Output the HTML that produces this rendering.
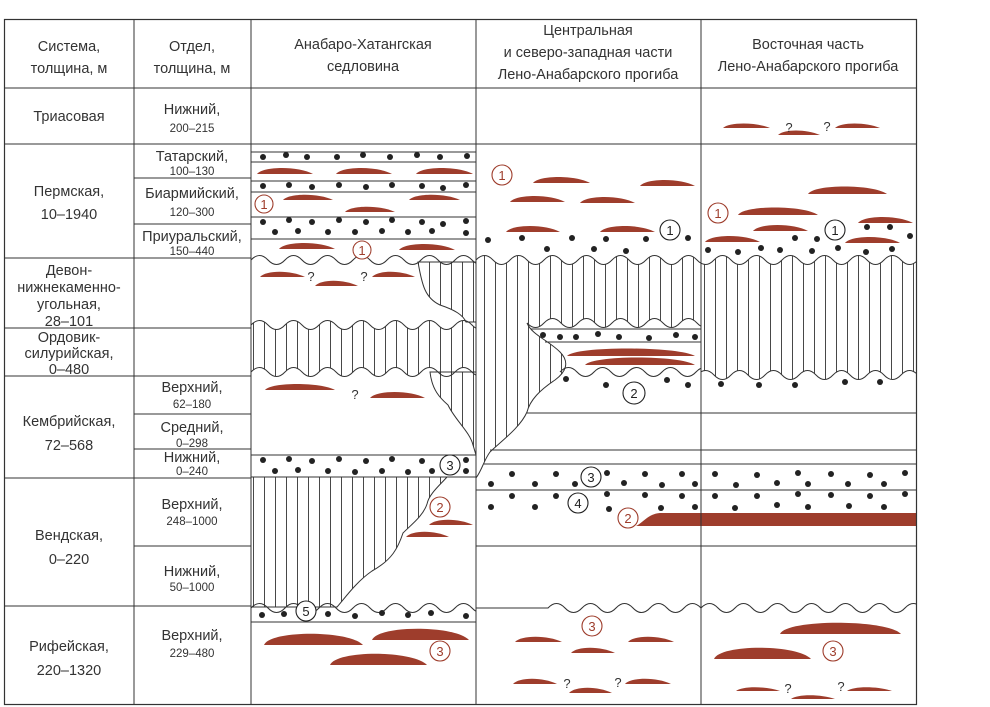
<!DOCTYPE html>
<html><head><meta charset="utf-8"><style>
html,body{margin:0;padding:0;background:#fff;}
svg{display:block;}
text{font-family:"Liberation Sans","DejaVu Sans",sans-serif;fill:#333;}
.t{font-size:14.5px;text-anchor:middle;}
.s{font-size:11.5px;text-anchor:middle;}
.q{font-size:13px;text-anchor:middle;}
.L{fill:#9e3d2c;stroke:none;}
.g line{stroke:#333;stroke-width:1;}
.d circle{fill:#222;}
.w{fill:none;stroke:#333;stroke-width:1.1;}
.cb{fill:#fff;stroke:#222;stroke-width:1.1;}
.cr{fill:#fff;stroke:#9e3d2c;stroke-width:1.1;}
.nb{font-size:13px;text-anchor:middle;fill:#222;}
.nr{font-size:13px;text-anchor:middle;fill:#9e3d2c;}
</style></head><body>
<svg width="990" height="707" viewBox="0 0 990 707" xmlns="http://www.w3.org/2000/svg">
<defs>
<pattern id="h" patternUnits="userSpaceOnUse" width="11" height="10"><line x1="0.5" y1="0" x2="0.5" y2="10" stroke="#333" stroke-width="0.9"/></pattern>
<clipPath id="c3"><rect x="251" y="88" width="225" height="617"/></clipPath>
<clipPath id="c4"><rect x="476" y="88" width="225" height="617"/></clipPath>
<clipPath id="c5"><rect x="701" y="88" width="215" height="617"/></clipPath>
</defs>

<g fill="url(#h)" stroke="#333" stroke-width="1">
<g clip-path="url(#c3)">
<path d="M418,262 C422,285 425,298 440,305 C455,310 463,315 466,322 L476,322 L476,262 Z"/>
<path d="M251,325 q8.5,-9 17,0 t17,0 t17,0 t17,0 t17,0 t17,0 t17,0 t17,0 t17,0 t17,0 t17,0 t17,0 t17,0 t17,0 L489,372 q-8.5,9 -17,0 t-17,0 t-17,0 t-17,0 t-17,0 t-17,0 t-17,0 t-17,0 t-17,0 t-17,0 t-17,0 t-17,0 t-17,0 t-17,0 Z"/>
<path d="M430,372 C432,390 440,398 448,405 C455,420 470,432 473,445 L476,455 L476,372 Z"/>
<path d="M251,477 L447,477 C440,485 429,494 427,504 C423,516 412,524 403,533 C398,548 392,560 372,571 C356,582 345,598 337,607 L251,607 Z"/>
</g>
<g clip-path="url(#c4)">
<path d="M476,260 q8.5,-9 17,0 t17,0 t17,0 t17,0 t17,0 t17,0 t17,0 t17,0 t17,0 t17,0 t17,0 t17,0 t17,0 t17,0 L714,323 q-8.5,9 -17,0 t-17,0 t-17,0 t-17,0 t-17,0 t-17,0 t-17,0 t-17,0 t-17,0 t-17,0 t-17,0 C532,335 548,340 560,352 C570,362 566,372 555,380 C540,390 530,400 527,412 C520,428 500,442 490,452 C484,460 482,470 476,478 Z"/>
</g>
<g clip-path="url(#c5)">
<path d="M680,260 q8.5,-9 17,0 t17,0 t17,0 t17,0 t17,0 t17,0 t17,0 t17,0 t17,0 t17,0 t17,0 t17,0 t17,0 t17,0 t17,0 L935,375 q-8.5,9 -17,0 t-17,0 t-17,0 t-17,0 t-17,0 t-17,0 t-17,0 t-17,0 t-17,0 t-17,0 t-17,0 t-17,0 t-17,0 t-17,0 t-17,0 Z"/>
</g>
</g>

<g clip-path="url(#c3)"><path class="w" d="M251,260 q8.5,-9 17,0 t17,0 t17,0 t17,0 t17,0 t17,0 t17,0 t17,0 t17,0 t17,0 t17,0 t17,0 t17,0 t17,0"/>
<path class="w" d="M251,608 q8.5,-9 17,0 t17,0 t17,0 t17,0 t17,0 t17,0 t17,0 t17,0 t17,0 t17,0 t17,0 t17,0 t17,0 t17,0"/></g>
<g clip-path="url(#c4)"><path class="w" d="M560,372 q8.5,-9 17,0 t17,0 t17,0 t17,0 t17,0 t17,0 t17,0 t17,0 t17,0"/>
<path class="w" d="M476,608 L548,608 q8.5,-9 17,0 t17,0 t17,0 t17,0 t17,0 t17,0 t17,0 t17,0 t17,0"/></g>
<g clip-path="url(#c5)"><path class="w" d="M701,608 q8.5,-9 17,0 t17,0 t17,0 t17,0 t17,0 t17,0 t17,0 t17,0 t17,0 t17,0 t17,0 t17,0 t17,0"/></g>

<g class="g">
<line x1="251" y1="152" x2="476" y2="152"/><line x1="251" y1="162" x2="476" y2="162"/>
<line x1="251" y1="181" x2="476" y2="181"/><line x1="251" y1="192" x2="476" y2="192"/>
<line x1="251" y1="217" x2="476" y2="217"/><line x1="251" y1="239" x2="476" y2="239"/>
<line x1="251" y1="455" x2="476" y2="455"/><line x1="251" y1="477" x2="476" y2="477"/>
<line x1="251" y1="622" x2="476" y2="622"/>
<line x1="531" y1="329" x2="701" y2="329"/><line x1="545" y1="342" x2="701" y2="342"/>
<line x1="527" y1="413" x2="916" y2="413"/><line x1="490" y1="450" x2="916" y2="450"/>
<line x1="484" y1="464" x2="916" y2="464"/><line x1="476" y1="490" x2="916" y2="490"/>
<line x1="476" y1="546" x2="916" y2="546"/>
</g>

<g class="d">
<circle cx="263" cy="157" r="3"/><circle cx="286" cy="155" r="3"/><circle cx="307" cy="157" r="3"/><circle cx="337" cy="157" r="3"/><circle cx="363" cy="155" r="3"/><circle cx="390" cy="157" r="3"/><circle cx="417" cy="155" r="3"/><circle cx="440" cy="157" r="3"/><circle cx="467" cy="156" r="3"/>
<circle cx="263" cy="186" r="3"/><circle cx="289" cy="185" r="3"/><circle cx="312" cy="187" r="3"/><circle cx="339" cy="185" r="3"/><circle cx="366" cy="187" r="3"/><circle cx="392" cy="185" r="3"/><circle cx="422" cy="186" r="3"/><circle cx="443" cy="188" r="3"/><circle cx="466" cy="185" r="3"/>
<circle cx="263" cy="222" r="3"/><circle cx="289" cy="220" r="3"/><circle cx="312" cy="222" r="3"/><circle cx="339" cy="220" r="3"/><circle cx="366" cy="222" r="3"/><circle cx="392" cy="220" r="3"/><circle cx="422" cy="222" r="3"/><circle cx="443" cy="224" r="3"/><circle cx="466" cy="221" r="3"/>
<circle cx="275" cy="232" r="3"/><circle cx="298" cy="231" r="3"/><circle cx="328" cy="232" r="3"/><circle cx="355" cy="232" r="3"/><circle cx="382" cy="231" r="3"/><circle cx="408" cy="232" r="3"/><circle cx="432" cy="231" r="3"/><circle cx="466" cy="233" r="3"/>
<circle cx="263" cy="460" r="3"/><circle cx="289" cy="459" r="3"/><circle cx="312" cy="461" r="3"/><circle cx="339" cy="459" r="3"/><circle cx="366" cy="461" r="3"/><circle cx="392" cy="459" r="3"/><circle cx="422" cy="461" r="3"/><circle cx="466" cy="460" r="3"/>
<circle cx="275" cy="471" r="3"/><circle cx="298" cy="470" r="3"/><circle cx="328" cy="471" r="3"/><circle cx="355" cy="472" r="3"/><circle cx="382" cy="471" r="3"/><circle cx="408" cy="472" r="3"/><circle cx="432" cy="471" r="3"/><circle cx="466" cy="471" r="3"/>
<circle cx="262" cy="615" r="3"/><circle cx="284" cy="614" r="3"/><circle cx="328" cy="614" r="3"/><circle cx="355" cy="616" r="3"/><circle cx="382" cy="613" r="3"/><circle cx="408" cy="615" r="3"/><circle cx="431" cy="613" r="3"/><circle cx="466" cy="616" r="3"/>
<circle cx="488" cy="240" r="3"/><circle cx="522" cy="238" r="3"/><circle cx="547" cy="249" r="3"/><circle cx="572" cy="238" r="3"/><circle cx="594" cy="249" r="3"/><circle cx="606" cy="239" r="3"/><circle cx="626" cy="251" r="3"/><circle cx="646" cy="239" r="3"/><circle cx="688" cy="238" r="3"/>
<circle cx="867" cy="227" r="3"/><circle cx="890" cy="227" r="3"/><circle cx="795" cy="238" r="3"/><circle cx="817" cy="239" r="3"/><circle cx="910" cy="236" r="3"/>
<circle cx="708" cy="250" r="3"/><circle cx="738" cy="252" r="3"/><circle cx="761" cy="248" r="3"/><circle cx="780" cy="250" r="3"/><circle cx="812" cy="251" r="3"/><circle cx="838" cy="248" r="3"/><circle cx="866" cy="252" r="3"/><circle cx="892" cy="249" r="3"/>
<circle cx="543" cy="335" r="3"/><circle cx="560" cy="337" r="3"/><circle cx="576" cy="337" r="3"/><circle cx="598" cy="334" r="3"/><circle cx="619" cy="337" r="3"/><circle cx="649" cy="338" r="3"/><circle cx="676" cy="335" r="3"/><circle cx="695" cy="337" r="3"/>
<circle cx="566" cy="379" r="3"/><circle cx="606" cy="385" r="3"/><circle cx="667" cy="380" r="3"/><circle cx="688" cy="385" r="3"/>
<circle cx="721" cy="384" r="3"/><circle cx="759" cy="385" r="3"/><circle cx="795" cy="385" r="3"/><circle cx="845" cy="382" r="3"/><circle cx="880" cy="382" r="3"/>
<circle cx="512" cy="474" r="3"/><circle cx="556" cy="474" r="3"/><circle cx="607" cy="473" r="3"/><circle cx="645" cy="474" r="3"/><circle cx="682" cy="474" r="3"/><circle cx="715" cy="474" r="3"/><circle cx="757" cy="475" r="3"/><circle cx="798" cy="473" r="3"/><circle cx="831" cy="474" r="3"/><circle cx="870" cy="475" r="3"/><circle cx="905" cy="473" r="3"/>
<circle cx="491" cy="484" r="3"/><circle cx="535" cy="484" r="3"/><circle cx="575" cy="484" r="3"/><circle cx="624" cy="483" r="3"/><circle cx="662" cy="485" r="3"/><circle cx="695" cy="484" r="3"/><circle cx="736" cy="485" r="3"/><circle cx="777" cy="483" r="3"/><circle cx="808" cy="484" r="3"/><circle cx="848" cy="484" r="3"/><circle cx="884" cy="484" r="3"/>
<circle cx="512" cy="496" r="3"/><circle cx="556" cy="496" r="3"/><circle cx="607" cy="494" r="3"/><circle cx="645" cy="495" r="3"/><circle cx="682" cy="496" r="3"/><circle cx="715" cy="496" r="3"/><circle cx="757" cy="496" r="3"/><circle cx="798" cy="494" r="3"/><circle cx="831" cy="495" r="3"/><circle cx="870" cy="496" r="3"/><circle cx="905" cy="494" r="3"/>
<circle cx="491" cy="507" r="3"/><circle cx="535" cy="507" r="3"/><circle cx="609" cy="509" r="3"/><circle cx="661" cy="508" r="3"/><circle cx="695" cy="507" r="3"/><circle cx="735" cy="508" r="3"/><circle cx="777" cy="505" r="3"/><circle cx="808" cy="507" r="3"/><circle cx="849" cy="506" r="3"/><circle cx="884" cy="507" r="3"/>
</g>

<g class="L">
<path d="M257,174 c6,-8 42,-8 56,0 z"/><path d="M336,174 c6,-8 42,-8 56,0 z"/><path d="M416,174 c6,-8 43,-8 57,0 z"/>
<path d="M283,200 c6,-7 36,-7 50,0 z"/><path d="M345,212 c6,-7 36,-7 50,0 z"/><path d="M409,200 c6,-7 37,-7 51,0 z"/>
<path d="M279,249 c6,-8 42,-8 56,0 z"/><path d="M399,250 c6,-8 42,-8 56,0 z"/>
<path d="M260,277 c6,-7 31,-7 45,0 z"/><path d="M315,286 c6,-7 29,-7 43,0 z"/><path d="M372,277 c6,-7 29,-7 43,0 z"/>
<path d="M265,390 c6,-8 56,-8 70,0 z"/><path d="M370,398 c6,-8 41,-8 55,0 z"/>
<path d="M429,525 c6,-7 30,-7 44,0 z"/><path d="M406,537 c6,-7 29,-7 43,0 z"/>
<path d="M264,645 c6,-15 85,-15 99,0 z"/><path d="M372,640 c6,-15 83,-15 97,0 z"/><path d="M330,665 c6,-15 83,-15 97,0 z"/>
<path d="M533,183 c6,-8 43,-8 57,0 z"/><path d="M640,186 c6,-8 41,-8 55,0 z"/><path d="M510,202 c6,-8 41,-8 55,0 z"/><path d="M580,203 c6,-8 41,-8 55,0 z"/><path d="M506,232 c6,-8 40,-8 54,0 z"/><path d="M600,232 c6,-8 41,-8 55,0 z"/>
<path d="M567,356 c8,-10 110,-10 128,0 z"/><path d="M585,365 c8,-10 95,-10 110,0 z"/>
<path d="M515,642 c6,-7 33,-7 47,0 z"/><path d="M628,642 c6,-7 32,-7 46,0 z"/><path d="M571,653 c6,-7 30,-7 44,0 z"/>
<path d="M513,684 c6,-7 30,-7 44,0 z"/><path d="M569,693 c6,-7 29,-7 43,0 z"/><path d="M625,684 c6,-7 32,-7 46,0 z"/>
<path d="M723,128 c6,-6 33,-6 47,0 z"/><path d="M778,135 c6,-6 28,-6 42,0 z"/><path d="M835,128 c6,-6 31,-6 45,0 z"/>
<path d="M808,194 c6,-10 65,-10 79,0 z"/><path d="M738,215 c6,-10 66,-10 80,0 z"/><path d="M753,231 c6,-8 41,-8 55,0 z"/><path d="M705,242 c6,-8 41,-8 55,0 z"/><path d="M858,223 c6,-8 41,-8 55,0 z"/><path d="M845,243 c6,-8 41,-8 55,0 z"/>
<path d="M780,634 c6,-15 107,-15 121,0 z"/><path d="M714,659 c6,-15 83,-15 97,0 z"/>
<path d="M736,691 c6,-5 30,-5 44,0 z"/><path d="M791,699 c6,-5 30,-5 44,0 z"/><path d="M847,691 c6,-5 31,-5 45,0 z"/>
<path d="M636,526 C644,522 648,514 660,513 L916,513 L916,526 Z"/>
</g>

<g>
<text class="q" x="311" y="281">?</text><text class="q" x="364" y="281">?</text>
<text class="q" x="355" y="399">?</text>
<text class="q" x="567" y="688">?</text><text class="q" x="618" y="687">?</text>
<text class="q" x="789" y="132">?</text><text class="q" x="827" y="131">?</text>
<text class="q" x="788" y="693">?</text><text class="q" x="841" y="691">?</text>
</g>

<g>
<circle class="cr" cx="264" cy="204" r="9"/><text class="nr" x="264" y="209">1</text>
<circle class="cr" cx="362" cy="250" r="9"/><text class="nr" x="362" y="255">1</text>
<circle class="cr" cx="502" cy="175" r="10"/><text class="nr" x="502" y="180">1</text>
<circle class="cb" cx="670" cy="230" r="10"/><text class="nb" x="670" y="235">1</text>
<circle class="cr" cx="718" cy="213" r="10"/><text class="nr" x="718" y="218">1</text>
<circle class="cb" cx="835" cy="230" r="10"/><text class="nb" x="835" y="235">1</text>
<circle class="cb" cx="634" cy="393" r="11"/><text class="nb" x="634" y="398">2</text>
<circle class="cb" cx="450" cy="465" r="10"/><text class="nb" x="450" y="470">3</text>
<circle class="cb" cx="591" cy="477" r="10"/><text class="nb" x="591" y="482">3</text>
<circle class="cb" cx="578" cy="503" r="10"/><text class="nb" x="578" y="508">4</text>
<circle class="cr" cx="628" cy="518" r="10"/><text class="nr" x="628" y="523">2</text>
<circle class="cr" cx="440" cy="507" r="10"/><text class="nr" x="440" y="512">2</text>
<circle class="cb" cx="306" cy="611" r="10"/><text class="nb" x="306" y="616">5</text>
<circle class="cr" cx="440" cy="651" r="10"/><text class="nr" x="440" y="656">3</text>
<circle class="cr" cx="592" cy="626" r="10"/><text class="nr" x="592" y="631">3</text>
<circle class="cr" cx="833" cy="651" r="10"/><text class="nr" x="833" y="656">3</text>
</g>

<g class="g">
<rect x="4.5" y="19.5" width="912" height="685" fill="none" stroke="#333" stroke-width="1.2"/>
<line x1="134" y1="19" x2="134" y2="705"/>
<line x1="251" y1="19" x2="251" y2="705"/>
<line x1="476" y1="19" x2="476" y2="705"/>
<line x1="701" y1="19" x2="701" y2="705"/>
<line x1="4" y1="88" x2="916" y2="88"/>
<line x1="4" y1="144" x2="916" y2="144"/>
<line x1="4" y1="258" x2="251" y2="258"/>
<line x1="4" y1="328" x2="251" y2="328"/>
<line x1="4" y1="376" x2="251" y2="376"/>
<line x1="4" y1="478" x2="251" y2="478"/>
<line x1="4" y1="606" x2="251" y2="606"/>
<line x1="134" y1="178" x2="251" y2="178"/>
<line x1="134" y1="224" x2="251" y2="224"/>
<line x1="134" y1="414" x2="251" y2="414"/>
<line x1="134" y1="449" x2="251" y2="449"/>
<line x1="134" y1="546" x2="251" y2="546"/>
</g>

<text class="t" x="69" y="51">Система,</text><text class="t" x="69" y="73">толщина, м</text>
<text class="t" x="192" y="51">Отдел,</text><text class="t" x="192" y="73">толщина, м</text>
<text class="t" x="363" y="49">Анабаро-Хатангская</text><text class="t" x="363" y="71">седловина</text>
<text class="t" x="588" y="35">Центральная</text><text class="t" x="588" y="57">и северо-западная части</text><text class="t" x="588" y="79">Лено-Анабарского прогиба</text>
<text class="t" x="808" y="49">Восточная часть</text><text class="t" x="808" y="71">Лено-Анабарского прогиба</text>

<text class="t" x="69" y="121">Триасовая</text>
<text class="t" x="69" y="196">Пермская,</text><text class="t" x="69" y="219">10–1940</text>
<text class="t" x="69" y="275">Девон-</text><text class="t" x="69" y="292">нижнекаменно-</text><text class="t" x="69" y="309">угольная,</text><text class="t" x="69" y="326">28–101</text>
<text class="t" x="69" y="342">Ордовик-</text><text class="t" x="69" y="358">силурийская,</text><text class="t" x="69" y="374">0–480</text>
<text class="t" x="69" y="426">Кембрийская,</text><text class="t" x="69" y="450">72–568</text>
<text class="t" x="69" y="540">Вендская,</text><text class="t" x="69" y="564">0–220</text>
<text class="t" x="69" y="651">Рифейская,</text><text class="t" x="69" y="675">220–1320</text>

<text class="t" x="192" y="114">Нижний,</text><text class="s" x="192" y="132">200–215</text>
<text class="t" x="192" y="161">Татарский,</text><text class="s" x="192" y="175">100–130</text>
<text class="t" x="192" y="198">Биармийский,</text><text class="s" x="192" y="216">120–300</text>
<text class="t" x="192" y="241">Приуральский,</text><text class="s" x="192" y="255">150–440</text>
<text class="t" x="192" y="392">Верхний,</text><text class="s" x="192" y="408">62–180</text>
<text class="t" x="192" y="432">Средний,</text><text class="s" x="192" y="447">0–298</text>
<text class="t" x="192" y="462">Нижний,</text><text class="s" x="192" y="475">0–240</text>
<text class="t" x="192" y="509">Верхний,</text><text class="s" x="192" y="525">248–1000</text>
<text class="t" x="192" y="576">Нижний,</text><text class="s" x="192" y="591">50–1000</text>
<text class="t" x="192" y="640">Верхний,</text><text class="s" x="192" y="657">229–480</text>
</svg>
</body></html>
